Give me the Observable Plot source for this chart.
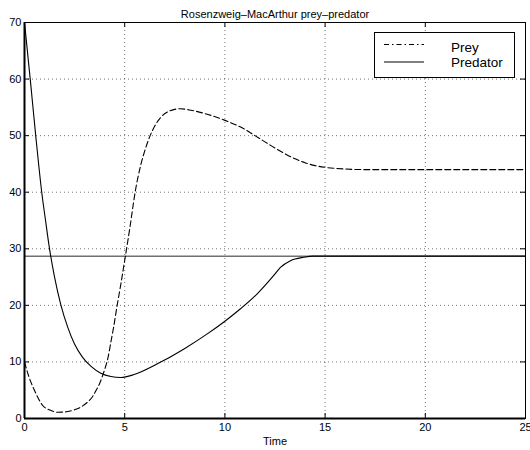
<!DOCTYPE html>
<html><head><meta charset="utf-8">
<script src="https://cdn.jsdelivr.net/npm/d3@7"></script>
<script src="https://cdn.jsdelivr.net/npm/@observablehq/plot@0.6"></script>
<style>body{margin:0;background:#fff}</style>
</head><body><div id="chart"></div>
<script>
const titleText = "Rosenzweig\u2013MacArthur prey\u2013predator";
const xLabel = "Time";
const legendLabels = ["Prey", "Predator"];
const xTicks = [0, 5, 10, 15, 20, 25];
const yTicks = [0, 10, 20, 30, 40, 50, 60, 70];
const equilibrium = 28.7;

const preyTime = [0, 0.2, 0.5, 0.91, 1.3, 1.66, 2.1, 2.49, 2.85, 3.15, 3.4, 3.57, 3.75, 3.9, 4.03, 4.17, 4.3, 4.45, 4.61, 4.8, 5.03, 5.27, 5.52, 5.8, 6.0, 6.27, 6.5, 6.77, 7.26, 7.76, 8.3, 9.0, 10, 11, 11.5, 12, 12.5, 13, 13.5, 14, 14.5, 15, 16, 17, 20, 25];
const preyValues = [10, 7.6, 4.95, 2.3, 1.45, 1.1, 1.2, 1.53, 2.1, 2.9, 3.9, 4.95, 6.2, 7.6, 9.0, 10.8, 13.3, 16.2, 19.7, 23.6, 28.6, 34, 40, 44.8, 47.3, 50, 51.7, 53.1, 54.4, 54.75, 54.5, 53.9, 52.7, 51.1, 50.0, 48.9, 47.8, 46.8, 45.9, 45.2, 44.7, 44.4, 44.1, 44.0, 44.0, 44.0];

const predTime = [0, 0.3, 0.56, 0.86, 1.05, 1.24, 1.5, 1.82, 2.16, 2.49, 2.9, 3.32, 3.81, 4.31, 4.81, 5.47, 6.63, 7.96, 9.12, 10, 10.78, 11.6, 12.44, 12.77, 13.27, 13.93, 14.4, 15, 20, 25];
const predValues = [70, 59.5, 50, 40, 35, 30.2, 25, 20, 16.1, 13.2, 10.8, 9.2, 8.0, 7.42, 7.24, 7.77, 9.66, 12.3, 14.96, 17.2, 19.4, 22.0, 25.3, 26.7, 27.9, 28.5, 28.7, 28.7, 28.7, 28.7];

const prey = preyTime.map((t, i) => ({t, v: preyValues[i]}));
const pred = predTime.map((t, i) => ({t, v: predValues[i]}));

const W = 530, H = 450, mL = 24, mR = 5, mT = 22, mB = 32;
const innerW = W - mL - mR, innerH = H - mT - mB;
const font = "'Liberation Sans', Arial, Helvetica, sans-serif";
const gridStyle = {stroke: "#000", strokeOpacity: 0.55, strokeDasharray: "1,3", strokeWidth: 1};

const chart = Plot.plot({
  width: W, height: H,
  marginLeft: mL, marginRight: mR, marginTop: mT, marginBottom: mB,
  style: {fontFamily: font, fontSize: "11px", background: "white", color: "black", overflow: "visible"},
  x: {domain: [0, 25]},
  y: {domain: [0, 70]},
  marks: [
    Plot.gridX(xTicks, gridStyle),
    Plot.gridY(yTicks, gridStyle),
    Plot.ruleY([equilibrium], {stroke: "#707070", strokeWidth: 1.5}),
    Plot.line(prey, {x: "t", y: "v", stroke: "black", strokeWidth: 1.1, strokeDasharray: "6,3", curve: "monotone-x"}),
    Plot.line(pred, {x: "t", y: "v", stroke: "black", strokeWidth: 1.1, curve: "monotone-x"}),
    Plot.frame({stroke: "black", strokeWidth: 1}),
    Plot.ruleX([0], {stroke: "black", strokeWidth: 2}),
    Plot.ruleY([0], {stroke: "black", strokeWidth: 2}),
    Plot.tickX(xTicks, {x: d => d, insetTop: innerH - 5, stroke: "black"}),
    Plot.tickX(xTicks, {x: d => d, insetBottom: innerH - 5, stroke: "black"}),
    Plot.tickY(yTicks, {y: d => d, insetRight: innerW - 5, stroke: "black"}),
    Plot.tickY(yTicks, {y: d => d, insetLeft: innerW - 5, stroke: "black"}),
    Plot.axisX(xTicks, {tickSize: 0, tickPadding: 5, label: null, fontSize: 11}),
    Plot.axisY(yTicks, {tickSize: 0, tickPadding: 3, label: null, fontSize: 11}),
    Plot.text([titleText], {frameAnchor: "top", dy: -12, fontSize: 11}),
    Plot.text([xLabel], {frameAnchor: "bottom", dy: 26, fontSize: 11})
  ]
});

const svg = d3.select(chart);
const g = svg.append("g").attr("font-family", font).attr("font-size", 13.5).attr("text-anchor", "start");
g.append("rect").attr("x", 374.5).attr("y", 32.5).attr("width", 140).attr("height", 45)
  .attr("fill", "white").attr("stroke", "black").attr("stroke-width", 1);
g.append("line").attr("x1", 384).attr("x2", 424).attr("y1", 44.5).attr("y2", 44.5)
  .attr("stroke", "black").attr("stroke-dasharray", "5,3,1.5,3");
g.append("line").attr("x1", 384).attr("x2", 424).attr("y1", 62).attr("y2", 62)
  .attr("stroke", "black");
g.append("text").attr("x", 451).attr("y", 52).attr("text-anchor", "start").text(legendLabels[0]);
g.append("text").attr("x", 451).attr("y", 67).attr("text-anchor", "start").text(legendLabels[1]);

document.getElementById("chart").appendChild(chart);
</script>
</body></html>
